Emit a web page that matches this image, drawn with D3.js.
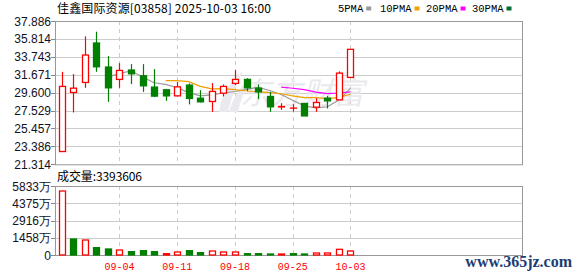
<!DOCTYPE html>
<html>
<head>
<meta charset="utf-8">
<script src="https://cdn.jsdelivr.net/npm/d3@7"></script>
<style>
  body { margin: 0; background: #fff; }
  svg { display: block; }
</style>
</head>
<body>
<svg id="chart" width="578" height="276"></svg>
<script>
// trading days shown
const dates = [
  "08-28", "08-29", "09-01", "09-02", "09-03", "09-04", "09-05", "09-08", "09-09",
  "09-10", "09-11", "09-12", "09-15", "09-16", "09-17", "09-18", "09-19", "09-22",
  "09-23", "09-24", "09-25", "09-26", "09-29", "09-30", "10-02", "10-03",
];
const openP = [
  22.79, 29.62, 30.78, 35.34, 32.56, 31.13, 32.21, 31.55, 30.24, 29.93, 29.23, 30.47, 28.96,
  28.58, 29.54, 30.67, 31.13, 30.12, 29.16, 27.95, 27.81, 28.35, 27.92, 28.96, 28.77, 31.36,
];
const closeP = [
  30.32, 30.12, 33.95, 32.59, 30.16, 32.17, 31.78, 30.39, 29.2, 29.23, 30.27, 28.93, 28.54,
  29.74, 30.32, 31.13, 30.16, 29.69, 27.96, 28.0, 27.81, 26.91, 28.46, 28.65, 31.86, 34.61,
];
const highP = [
  32.01, 31.74, 36.11, 36.65, 33.83, 33.02, 32.9, 32.9, 32.32, 30.01, 30.85, 30.67, 29.89,
  30.7, 30.55, 32.21, 31.28, 30.55, 29.69, 28.38, 28.27, 28.39, 28.96, 29.23, 32.06, 34.61,
];
const lowP = [
  22.79, 27.31, 30.16, 32.01, 28.54, 30.16, 30.59, 29.69, 29.12, 28.65, 29.16, 28.24, 28.47,
  27.38, 29.16, 30.47, 29.77, 28.85, 27.38, 27.61, 27.42, 26.91, 27.38, 27.77, 28.77, 31.36,
];
// volume in 万股
const volume = [
  5410, 1352, 1268, 620, 507, 423, 280, 366, 280, 110, 253, 366, 197,
  338, 253, 253, 110, 110, 85, 85, 110, 85, 170, 170, 480, 339,
];
const lastVolume = 3393606;
// moving averages
const ma5 = [
  null, null, null, null, 31.43, 31.8, 32.13, 31.42, 30.74, 30.55, 30.17, 29.6, 29.23,
  29.34, 29.56, 29.73, 29.98, 30.21, 29.85, 29.39, 28.72, 28.07, 27.83, 27.97, 28.74, 30.1,
];
const ma10 = [
  null, null, null, null, null, null, null, null, null, 30.99, 30.99, 30.87, 30.33,
  30.04, 30.06, 29.95, 29.79, 29.72, 29.6, 29.47, 29.23, 29.03, 29.02, 28.91, 29.06, 29.41,
];
const ma20 = [
  null, null, null, null, null, null, null, null, null, null, null, null, null,
  null, null, null, null, null, null, 30.23, 30.11, 29.95, 29.67, 29.48, 29.56, 29.68,
];
const priceTicks = [21.314, 23.386, 25.457, 27.529, 29.6, 31.671, 33.743, 35.814, 37.886];
const volTicks = [0, 1458, 2916, 4375, 5833];
const tickDates = ["09-04", "09-11", "09-18", "09-25", "10-03"];
const legendItems = [
  { name: "5PMA", color: "#999999" },
  { name: "10PMA", color: "#f0a000" },
  { name: "20PMA", color: "#ff00ff" },
  { name: "30PMA", color: "#006b2e" },
];

const svg = d3.select("#chart");
const left = 55, right = 522;
const priceTop = 21, priceBottom = 164.3;
const volTop = 186, volBottom = 255;
const RED = "#ff0000", GREEN = "#007f00";
const axisFont = "'Liberation Sans', Arial, sans-serif";
const cjkFont = "'Noto Sans CJK SC', 'Liberation Sans', sans-serif";
const monoFont = "'Liberation Mono', monospace";

const idx = d3.range(dates.length);
const x = d3.scaleLinear().domain([-0.58, 39.85]).range([left, right]);
const y = d3.scaleLinear().domain([21.314, 37.886]).range([priceBottom, priceTop]);
const yv = d3.scaleLinear().domain([0, 5833]).range([volBottom, volTop]);

// grid + frames
function panel(top, bottom, yScale, ticks, fmt) {
  const g = svg.append("g");
  g.selectAll(".hgrid")
    .data(ticks.slice(1, -1))
    .enter()
    .append("line")
    .attr("x1", left)
    .attr("x2", right)
    .attr("y1", (d) => Math.round(yScale(d)) + 0.5)
    .attr("y2", (d) => Math.round(yScale(d)) + 0.5)
    .attr("stroke", "#cccccc");
  g.selectAll(".vgrid")
    .data(tickDates)
    .enter()
    .append("line")
    .attr("x1", (d) => Math.round(x(dates.indexOf(d))) + 0.5)
    .attr("x2", (d) => Math.round(x(dates.indexOf(d))) + 0.5)
    .attr("y1", top)
    .attr("y2", bottom)
    .attr("stroke", "#cccccc")
    .attr("stroke-dasharray", "4,4");
  g.append("rect")
    .attr("x", left + 0.5)
    .attr("y", top + 0.5)
    .attr("width", right - left)
    .attr("height", bottom - top)
    .attr("fill", "none")
    .attr("stroke", "#999999");
  // tick marks + labels
  g.selectAll(".tick")
    .data(ticks)
    .enter()
    .append("line")
    .attr("x1", left - 4)
    .attr("x2", left)
    .attr("y1", (d) => Math.round(yScale(d)) + 0.5)
    .attr("y2", (d) => Math.round(yScale(d)) + 0.5)
    .attr("stroke", "#888888");
  g.selectAll(".lbl")
    .data(ticks)
    .enter()
    .append("text")
    .attr("x", left - 4)
    .attr("y", (d) => yScale(d) + 4.5)
    .attr("text-anchor", "end")
    .attr("font-family", axisFont)
    .attr("font-size", "12px")
    .attr("fill", "#111122")
    .text(fmt);
}

panel(priceTop, priceBottom, y, priceTicks, (d) => d.toFixed(3));
panel(volTop, volBottom, yv, volTicks, (d) => (d === 0 ? "0" : d + "万"));

// watermark
const wm = svg.append("g").attr("fill", "#e9e9ee");
wm.append("path")
  .attr("d", "M219 112 C221 96 229 82 243 71 C236 86 231 98 228 112 Z M229 112 C233 98 240 86 250 79 C244 92 240 102 238 112 Z");
wm.append("text")
  .attr("x", 240)
  .attr("y", 104)
  .attr("font-family", cjkFont)
  .attr("font-size", "31px")
  .attr("font-style", "italic")
  .text("东方财富");

// moving averages
const maLine = d3
  .line()
  .defined((d) => d != null)
  .x((d, i) => x(i))
  .y((d) => y(d));
[
  [ma5, "#999999"],
  [ma10, "#f0a000"],
  [ma20, "#ff00ff"],
].forEach(([series, color]) => {
  svg.append("path")
    .datum(series)
    .attr("d", maLine)
    .attr("fill", "none")
    .attr("stroke", color)
    .attr("stroke-width", 1.2);
});

// candles
const bw = 7;
const candles = svg.append("g");
candles.selectAll(".wick")
  .data(idx)
  .enter()
  .append("line")
  .attr("x1", (i) => Math.round(x(i)) + 0.5)
  .attr("x2", (i) => Math.round(x(i)) + 0.5)
  .attr("y1", (i) => y(highP[i]))
  .attr("y2", (i) => y(lowP[i]))
  .attr("stroke", (i) => (closeP[i] >= openP[i] ? RED : GREEN))
  .attr("stroke-width", 1.2);
candles.selectAll(".body")
  .data(idx)
  .enter()
  .append("rect")
  .attr("x", (i) => Math.round(x(i)) + 0.5 - bw / 2 + 0.5)
  .attr("width", bw - 1)
  .attr("y", (i) => y(Math.max(openP[i], closeP[i])))
  .attr("height", (i) => Math.max(0.01, Math.abs(y(openP[i]) - y(closeP[i]))))
  .attr("fill", (i) => (closeP[i] >= openP[i] ? "#ffffff" : GREEN))
  .attr("stroke", (i) => (closeP[i] >= openP[i] ? RED : GREEN))
  .attr("stroke-width", 1.3);

// volume bars: colour by change from previous close
const volUp = (i) => i === 0 || closeP[i] >= closeP[i - 1];
svg.append("g")
  .selectAll("rect")
  .data(idx)
  .enter()
  .append("rect")
  .attr("x", (i) => Math.round(x(i)) + 0.5 - bw / 2 + 0.5)
  .attr("width", bw - 1)
  .attr("y", (i) => yv(volume[i]))
  .attr("height", (i) => volBottom - yv(volume[i]))
  .attr("fill", (i) => (volUp(i) ? "#ffffff" : GREEN))
  .attr("stroke", (i) => (volUp(i) ? RED : GREEN))
  .attr("stroke-width", 1.3);

// x labels
svg.selectAll(".xlbl")
  .data(tickDates)
  .enter()
  .append("text")
  .attr("x", (d) => x(dates.indexOf(d)))
  .attr("y", 270)
  .attr("text-anchor", "middle")
  .attr("font-family", monoFont)
  .attr("font-size", "10px")
  .attr("fill", RED)
  .text((d) => d);

// title
svg.append("text")
  .attr("x", 57)
  .attr("y", 13)
  .attr("font-family", cjkFont)
  .attr("font-size", "12px")
  .attr("textLength", 214)
  .attr("fill", "#000")
  .text("佳鑫国际资源[03858] 2025-10-03 16:00");

svg.append("text")
  .attr("x", 57)
  .attr("y", 181)
  .attr("font-family", cjkFont)
  .attr("font-size", "12px")
  .attr("textLength", 85)
  .attr("fill", "#000")
  .text("成交量:" + lastVolume);

// legend
const legend = svg.append("g");
const legendX = [338, 380, 426, 472];
legendItems.forEach((d, i) => {
  const t = legend.append("text")
    .attr("x", legendX[i])
    .attr("y", 12)
    .attr("font-family", monoFont)
    .attr("font-size", "10.5px")
    .attr("fill", "#000")
    .text(d.name);
  const w = t.node().getComputedTextLength();
  legend.append("rect")
    .attr("x", legendX[i] + w + 3)
    .attr("y", 6.5)
    .attr("width", 5)
    .attr("height", 4)
    .attr("fill", d.color);
});

// site mark
svg.append("text")
  .attr("x", 572)
  .attr("y", 267)
  .attr("text-anchor", "end")
  .attr("font-family", "'Liberation Serif', serif")
  .attr("font-size", "16px")
  .attr("font-weight", "bold")
  .attr("fill", "#1d3d72")
  .text("www.365jz.com");
</script>
</body>
</html>
